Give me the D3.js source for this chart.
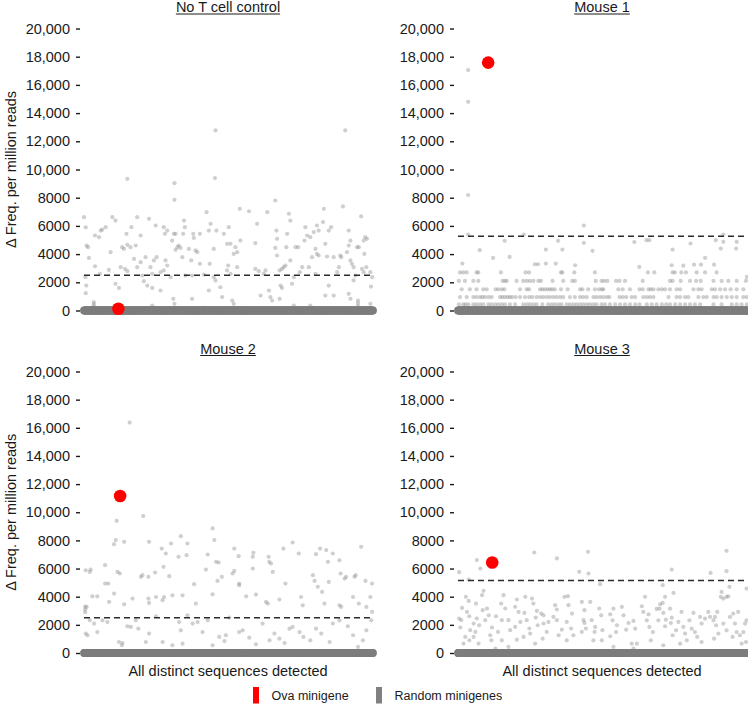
<!DOCTYPE html>
<html>
<head>
<meta charset="utf-8">
<script src="https://cdn.jsdelivr.net/npm/d3@7"></script>
<style>
  html, body { margin: 0; padding: 0; background: #fff; }
  svg { display: block; }
  text { font-family: "Liberation Sans", Arial, Helvetica, sans-serif; fill: #1a1a1a; }
</style>
</head>
<body>
<svg id="chart" width="748" height="709"></svg>
<script>
// ---------------- DATA ----------------
const panelTitles = ["No T cell control", "Mouse 1", "Mouse 2", "Mouse 3"];
const yTicks = [0, 2000, 4000, 6000, 8000, 10000, 12000, 14000, 16000, 18000, 20000];
const thresholds = [2500, 5270, 2500, 5150];
// Ova minigene: [sequence index (0-1000), value]
const ovaPoints = [[119, 120], [104, 17580], [125, 11150], [118, 6430]];
const xLabel = "All distinct sequences detected";
const yLabel = "\u0394 Freq. per million reads";
const legendLabels = ["Ova minigene", "Random minigenes"];

// Random minigenes above background: [sequence index, value]
const noTCellPoints = [[0,6620],[6,5900],[9,4600],[14,4490],[17,3730],[5,2360],[8,1770],[6,1230],[38,5320],[52,5200],[38,3140],[58,5670],[63,5740],[75,5910],[55,2600],[86,2880],[92,4140],[98,6620],[109,6380],[109,1890],[121,1600],[127,3070],[132,4490],[138,4370],[150,9340],[147,5440],[164,5910],[142,2950],[150,2790],[150,4660],[161,4490],[173,3660],[179,4610],[184,6620],[196,5320],[196,3430],[184,3070],[202,2480],[207,2080],[213,3780],[219,1770],[236,1600],[225,6500],[230,3070],[236,2600],[242,3550],[251,3780],[248,6030],[265,1420],[265,2720],[276,5910],[280,5440],[288,5670],[282,3550],[288,3190],[276,2840],[300,2360],[305,4960],[311,5440],[317,5440],[313,9030],[313,7850],[317,4300],[323,4490],[328,4610],[334,4440],[309,830],[313,470],[346,6380],[349,5910],[343,5440],[351,2480],[340,3780],[363,4370],[371,3550],[378,5440],[380,5150],[374,2480],[386,4260],[374,830],[392,4140],[401,3310],[401,5440],[415,2550],[424,6970],[432,5670],[438,6150],[435,3310],[432,1420],[455,12770],[453,9390],[449,4370],[458,5670],[449,2360],[455,2130],[472,1650],[478,950],[484,5440],[495,4730],[507,4730],[501,5910],[495,2840],[507,2600],[499,3190],[513,710],[518,470],[524,4490],[530,4140],[518,4020],[541,4960],[539,7210],[530,3070],[571,7040],[593,4780],[599,6150],[593,2950],[605,2790],[611,1060],[622,2600],[628,2840],[634,6970],[640,1420],[645,950],[651,710],[662,7800],[666,5670],[668,5080],[662,4440],[668,3900],[677,2840],[685,2950],[691,3070],[697,3190],[680,1770],[685,1600],[677,830],[709,6860],[714,6380],[703,5440],[700,4490],[714,3550],[720,1890],[726,2360],[732,4490],[741,4490],[747,2720],[755,3070],[763,4960],[766,5910],[772,5320],[783,5200],[789,3780],[778,3070],[795,5560],[801,4370],[806,4020],[812,3900],[806,6030],[812,5670],[801,2600],[830,7210],[827,6270],[835,4730],[841,3830],[847,5670],[855,5910],[835,1060],[864,1060],[847,1770],[864,3780],[876,2720],[882,3070],[890,3780],[887,3900],[896,7380],[904,12770],[910,4140],[916,4610],[916,5670],[922,4960],[916,1180],[922,830],[922,3550],[927,3310],[933,3070],[933,2130],[939,2480],[945,4490],[951,4490],[959,6670],[968,4960],[973,5200],[979,5080],[970,4020],[962,2950],[968,2720],[977,3070],[991,2720],[997,2360],[993,1700],[991,470],[34,300],[34,450],[34,600],[948,300],[948,500],[948,700],[236,350],[415,190],[726,350],[783,350]];

const mouse1Points = [[35,17050],[35,14800],[35,8190],[35,5390],[75,4280],[161,4940],[121,3730],[178,3800],[227,5390],[15,3330],[265,3280],[276,3280],[303,4320],[303,3330],[337,3330],[345,4940],[360,4320],[404,3210],[434,6030],[434,4800],[464,4230],[608,4850],[625,3090],[650,4990],[660,4990],[740,4320],[737,3210],[777,3180],[802,4750],[814,3250],[838,3250],[852,3730],[883,3250],[889,4990],[906,4390],[915,5390],[915,4870],[959,4390],[961,4870],[996,2380]];
// Mouse 1 shows discrete value levels: sequence indices on each level
const mouse1Level2700 = [7,18,30,64,70,148,233,245,355,360,401,472,655,677,740,748,770,786,823,852,892];
const mouse1Level2100 = [3,24,53,70,154,162,168,202,225,237,248,260,277,286,326,363,394,403,475,495,504,515,545,557,576,637,731,740,768,800,821,837,881,909,932,961,993];
const mouse1Level1500 = [13,41,64,87,99,130,139,151,160,214,237,245,283,291,300,309,317,325,334,355,378,421,429,449,472,486,496,501,553,568,593,626,637,657,665,674,691,703,714,731,754,766,812,829,840,875,886,904,921,940,961,984];
const mouse1Level950 = [7,30,53,64,76,84,93,105,116,145,153,162,171,179,187,199,214,231,245,256,271,283,294,306,317,329,340,352,363,386,403,421,432,444,467,478,490,501,513,522,557,568,580,599,611,639,651,662,674,726,754,766,783,794,829,846,858,881,892,909,927,944,961,984,996];
const mouse1Level430 = [3,18,26,36,53,64,76,87,105,116,128,139,151,162,179,197,225,237,248,260,271,291,311,323,334,346,357,375,386,398,409,421,432,444,455,467,478,495,507,524,542,559,576,593,611,626,651,668,685,703,718,731,749,766,783,800,817,835,881,909,944,961,978,996];
const mouse1Levels = [2700, 2100, 1500, 950, 430];

const mouse2Points = [[158,16370],[205,9730],[113,9390],[110,8020],[104,7730],[139,7900],[116,5760],[124,5650],[6,5880],[20,5760],[23,5930],[73,6240],[29,4030],[46,4030],[9,3270],[73,4930],[84,4930],[87,3630],[104,4220],[139,3460],[168,3870],[202,5530],[197,5410],[223,5410],[225,7900],[223,3870],[225,3560],[249,3980],[272,3750],[277,3980],[246,5720],[269,7420],[283,7070],[275,6120],[295,5460],[301,7780],[306,4100],[335,8300],[341,4100],[327,6830],[355,6950],[358,7780],[381,4890],[387,3510],[428,7000],[422,5930],[445,8850],[451,8020],[457,6480],[466,6430],[462,5120],[445,4170],[477,5410],[520,7420],[535,6880],[520,5830],[514,5650],[537,4930],[537,4820],[561,4030],[586,7120],[584,6830],[584,6000],[595,4150],[630,3630],[636,3510],[639,6830],[641,6480],[647,6360],[653,5760],[676,3800],[690,7420],[697,4930],[722,7850],[743,7070],[751,3980],[757,3390],[792,5530],[798,5120],[803,7020],[817,7420],[809,4700],[824,4340],[832,3510],[838,7310],[844,6480],[847,5050],[861,7070],[884,6590],[888,5650],[902,5290],[907,5410],[884,3390],[890,3270],[931,3980],[936,5410],[940,5530],[951,3510],[959,7540],[974,5120],[977,3270],[991,3980],[997,4930],[6,1380],[12,1260],[20,2320],[35,2090],[46,1490],[64,2320],[81,2200],[121,780],[133,710],[131,550],[150,1900],[162,1850],[179,2320],[188,1730],[214,780],[225,1380],[249,2610],[272,780],[306,550],[329,2200],[335,1610],[341,660],[358,2680],[376,2090],[393,2200],[410,1490],[428,2320],[445,550],[468,1140],[486,850],[491,1260],[503,2510],[537,1490],[549,1610],[572,1090],[595,620],[618,2090],[642,900],[659,1380],[676,1020],[694,710],[711,1730],[722,1850],[746,1490],[759,1140],[783,900],[803,1730],[821,1380],[850,780],[861,2090],[884,2320],[913,1900],[931,1260],[948,430],[965,900],[977,1610],[994,2320],[997,2920],[4,2900],[4,3100],[4,3300]];

const mouse3Points = [[4,5740],[65,6600],[77,6000],[263,7140],[341,6720],[418,5770],[448,7190],[450,5650],[37,5220],[490,4890],[737,5930],[871,5690],[926,7260],[926,5810],[706,4820],[27,3990],[37,3700],[88,4420],[83,4110],[62,3510],[14,3200],[31,2920],[4,2450],[11,2330],[8,1810],[39,2610],[54,2090],[65,2450],[42,1620],[25,1140],[60,1500],[73,1970],[85,3040],[100,3160],[106,2680],[94,2330],[117,1810],[131,2610],[149,3510],[157,4110],[163,3160],[151,2330],[138,1500],[111,1260],[115,900],[174,2330],[180,1620],[197,1850],[203,3800],[197,3280],[209,2920],[215,2210],[232,3990],[229,2850],[237,2330],[255,3870],[260,3510],[246,1740],[249,1380],[226,1140],[203,950],[151,900],[174,430],[129,310],[71,670],[19,670],[39,900],[54,1140],[272,2990],[268,2520],[287,2800],[295,2680],[275,1970],[295,2090],[312,2210],[306,1500],[292,1020],[266,670],[335,3400],[341,3090],[329,2570],[341,2330],[358,1660],[347,1260],[367,3990],[379,4040],[381,3400],[393,2800],[375,2210],[390,1740],[398,1260],[375,900],[427,3630],[436,3040],[433,2330],[436,2140],[441,1740],[427,1500],[456,3630],[461,2330],[473,1850],[471,1500],[487,3160],[494,2680],[498,1620],[467,900],[496,900],[525,2750],[536,3150],[533,2320],[548,1970],[565,3270],[571,2680],[545,1490],[525,1190],[588,2130],[580,1660],[605,2280],[611,1730],[599,660],[617,660],[634,3320],[639,2920],[645,3990],[651,2320],[657,2750],[660,1850],[672,1490],[665,900],[685,3130],[691,2320],[695,3150],[697,3460],[706,3560],[708,2850],[714,3990],[714,1900],[717,2370],[731,3150],[734,2130],[737,2510],[743,4270],[740,1260],[752,1610],[760,2210],[771,2920],[777,1850],[783,1380],[789,900],[798,2320],[806,1730],[812,2850],[817,1490],[825,1140],[835,2560],[840,2090],[852,2440],[863,2920],[869,2560],[881,2320],[886,2560],[894,2920],[890,1970],[898,1380],[906,3990],[909,4340],[915,3870],[926,3990],[932,4030],[936,4700],[915,2090],[926,1610],[947,1140],[955,2090],[961,1490],[972,1260],[984,1490],[990,2090],[995,2320],[995,4580],[993,780],[938,2560],[949,2800],[966,2920],[978,660],[883,1020],[840,780],[766,660],[708,550],[605,310],[536,430]];

// background: the mass of distinct sequences with ~0 change (index extent and spacing)
const backgroundExtent = [0, 1000];
const backgroundStep = 2;

// ---------------- BUILD ----------------
const mouse1All = mouse1Points.concat(
  mouse1Level2700.map(i => [i, mouse1Levels[0]]),
  mouse1Level2100.map(i => [i, mouse1Levels[1]]),
  mouse1Level1500.map(i => [i, mouse1Levels[2]]),
  mouse1Level950.map(i => [i, mouse1Levels[3]]),
  mouse1Level430.map(i => [i, mouse1Levels[4]])
);
const panelPoints = [noTCellPoints, mouse1All, mouse2Points, mouse3Points];

const layout = [
  { x0: 84,  x1: 373, yTop: 28.5,  yZero: 310.5, titleY: 12,   xl: false },
  { x0: 458, x1: 748, yTop: 28.5,  yZero: 310.5, titleY: 12,   xl: false },
  { x0: 84,  x1: 373, yTop: 371.5, yZero: 653,   titleY: 353.5, xl: true },
  { x0: 458, x1: 748, yTop: 371.5, yZero: 653,   titleY: 353.5, xl: true }
];

const svg = d3.select("#chart");
const fmt = v => v >= 10000 ? d3.format(",")(v) : String(v);
const FS = 14.5;

layout.forEach((L, k) => {
  const x = d3.scaleLinear().domain(backgroundExtent).range([L.x0, L.x1]);
  const y = d3.scaleLinear().domain([0, 20000]).range([L.yZero, L.yTop]);
  const g = svg.append("g");

  // axis
  const ax = g.append("g")
    .attr("transform", `translate(${L.x0 - 4},0)`)
    .call(d3.axisLeft(y).tickValues(yTicks).tickFormat(fmt).tickSize(4).tickPadding(6));
  ax.select(".domain").remove();
  ax.selectAll(".tick line").attr("stroke", "#1a1a1a").attr("stroke-width", 1.4);
  ax.selectAll(".tick text").attr("font-size", FS).attr("fill", "#1a1a1a")
    .style("font-family", '"Liberation Sans", Arial, sans-serif');

  // scattered random minigenes
  g.append("g").selectAll("circle").data(panelPoints[k]).join("circle")
    .attr("cx", d => x(d[0])).attr("cy", d => y(d[1])).attr("r", 2.1)
    .attr("fill", "#8c8c8c").attr("fill-opacity", 0.42);

  // background band of ~0 sequences
  g.append("g").selectAll("circle").data(d3.range(backgroundExtent[0], backgroundExtent[1] + 1, backgroundStep)).join("circle")
    .attr("cx", d => x(d)).attr("cy", y(0)).attr("r", 3.9)
    .attr("fill", "#7d7d7d");

  // threshold
  g.append("line")
    .attr("x1", x(backgroundExtent[0])).attr("x2", x(backgroundExtent[1]))
    .attr("y1", y(thresholds[k])).attr("y2", y(thresholds[k]))
    .attr("stroke", "#2b2b2b").attr("stroke-width", 1.5).attr("stroke-dasharray", "6,4");

  // ova point
  g.append("circle")
    .attr("cx", x(ovaPoints[k][0])).attr("cy", y(ovaPoints[k][1])).attr("r", 6.3)
    .attr("fill", "#ff0000");

  // title with underline
  const tcx = k % 2 === 0 ? 228 : 602;
  const t = g.append("text").attr("x", tcx).attr("y", L.titleY)
    .attr("text-anchor", "middle").attr("font-size", FS).text(panelTitles[k]);
  const w = t.node().getComputedTextLength();
  g.append("line").attr("x1", tcx - w / 2).attr("x2", tcx + w / 2)
    .attr("y1", L.titleY + 2).attr("y2", L.titleY + 2)
    .attr("stroke", "#1a1a1a").attr("stroke-width", 1);

  // y label
  if (k % 2 === 0) {
    const cy = (L.yTop + L.yZero) / 2;
    g.append("text").attr("transform", `translate(16,${cy}) rotate(-90)`)
      .attr("text-anchor", "middle").attr("font-size", FS).text(yLabel);
  }
  // x label
  if (L.xl) {
    g.append("text").attr("x", tcx).attr("y", 676)
      .attr("text-anchor", "middle").attr("font-size", FS).text(xLabel);
  }
});

// legend
const legend = svg.append("g");
const legendColors = ["#ff0000", "#808080"];
const legendX = [253, 376];
legendLabels.forEach((lab, i) => {
  legend.append("rect").attr("x", legendX[i]).attr("y", 687).attr("width", 6).attr("height", 16.5)
    .attr("fill", legendColors[i]);
  legend.append("text").attr("x", legendX[i] + 18.5).attr("y", 700)
    .attr("font-size", 12.5).text(lab);
});
</script>
</body>
</html>
